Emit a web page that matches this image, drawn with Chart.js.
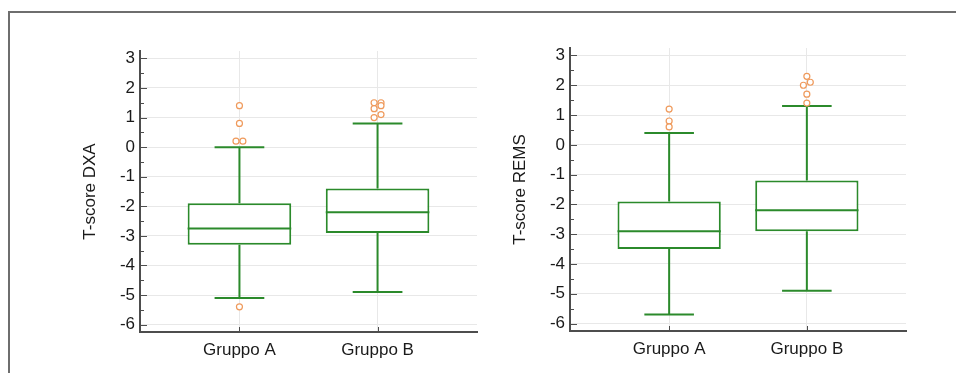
<!DOCTYPE html>
<html>
<head>
<meta charset="utf-8">
<title>T-score DXA / REMS</title>
<script src="https://cdn.jsdelivr.net/npm/chart.js@4.4.0/dist/chart.umd.min.js"></script>
<style>
    html, body {
        margin: 0;
        padding: 0;
        background: #ffffff;
        overflow: hidden;
    }
    .page {
        position: relative;
        width: 956px;
        height: 373px;
        overflow: hidden;
    }
    .frame {
        position: absolute;
        left: 8px;
        top: 11px;
        width: 1000px;
        height: 400px;
        border-top: 2px solid #6e6e6e;
        border-left: 2px solid #6e6e6e;
    }
    canvas {
        position: absolute;
        top: 0;
    }
    #dxaChart { left: 0; }
    #remsChart { left: 480px; }
</style>
</head>
<body>
<div class="page">
    <div class="frame"></div>
    <canvas id="dxaChart" width="490" height="373"></canvas>
    <canvas id="remsChart" width="476" height="373"></canvas>
</div>

<script>
// Groups and y-axis ticks
const groups = ['Gruppo A', 'Gruppo B'];
const groupPositions = [1, 2];
const yTicks = [-6, -5, -4, -3, -2, -1, 0, 1, 2, 3];

// T-score DXA summary (per group)
const dxaWhiskerLow = [-5.1, -4.9];
const dxaQ1 = [-3.3, -2.9];
const dxaMedian = [-2.75, -2.2];
const dxaQ3 = [-1.9, -1.4];
const dxaWhiskerHigh = [0.0, 0.8];
const dxaOutliers = [
    { x: 1, y: 1.4 }, { x: 1, y: 0.8 }, { x: 0.975, y: 0.2 }, { x: 1.025, y: 0.2 }, { x: 1, y: -5.4 },
    { x: 1.975, y: 1.5 }, { x: 2.025, y: 1.5 }, { x: 1.975, y: 1.3 }, { x: 2.025, y: 1.4 },
    { x: 2.025, y: 1.1 }, { x: 1.975, y: 1.0 }
];

// T-score REMS summary (per group)
const remsWhiskerLow = [-5.7, -4.9];
const remsQ1 = [-3.5, -2.9];
const remsMedian = [-2.9, -2.2];
const remsQ3 = [-1.9, -1.2];
const remsWhiskerHigh = [0.4, 1.3];
const remsOutliers = [
    { x: 1, y: 1.2 }, { x: 1, y: 0.8 }, { x: 1, y: 0.6 },
    { x: 2, y: 2.3 }, { x: 2.025, y: 2.1 }, { x: 1.975, y: 2.0 }, { x: 2, y: 1.7 }, { x: 2, y: 1.4 }
];

const BOX_COLOR = '#2b8a2b';
const OUTLIER_COLOR = '#ef9a5c';
const AXIS_COLOR = '#4d4d4d';
const GRID_COLOR = '#e8e8e8';
const CAP_HALF = 0.18;

Chart.defaults.font.family = '"Liberation Sans", Arial, sans-serif';
Chart.defaults.font.size = 17;
Chart.defaults.color = '#1a1a1a';

// Whiskers, caps and median lines, drawn through the chart scales
const boxPlotPlugin = {
    id: 'boxPlot',
    beforeDatasetsDraw(chart, args, opts) {
        const { ctx, scales: { x, y } } = chart;
        ctx.save();
        ctx.strokeStyle = BOX_COLOR;
        ctx.lineWidth = 2;
        opts.positions.forEach((pos, i) => {
            const cx = x.getPixelForValue(pos);
            const left = x.getPixelForValue(pos - CAP_HALF);
            const right = x.getPixelForValue(pos + CAP_HALF);
            const lo = y.getPixelForValue(opts.low[i]);
            const hi = y.getPixelForValue(opts.high[i]);
            ctx.beginPath();
            ctx.moveTo(cx, y.getPixelForValue(opts.q3[i]));
            ctx.lineTo(cx, hi);
            ctx.moveTo(left, hi);
            ctx.lineTo(right, hi);
            ctx.moveTo(cx, y.getPixelForValue(opts.q1[i]));
            ctx.lineTo(cx, lo);
            ctx.moveTo(left, lo);
            ctx.lineTo(right, lo);
            ctx.stroke();
        });
        ctx.restore();
    },
    afterDatasetDraw(chart, args, opts) {
        if (args.index !== 1) return;
        const { ctx } = chart;
        const { y } = chart.scales;
        const bars = chart.getDatasetMeta(1).data;
        ctx.save();
        ctx.strokeStyle = BOX_COLOR;
        ctx.lineWidth = 2;
        bars.forEach((bar, i) => {
            const my = y.getPixelForValue(opts.median[i]);
            ctx.beginPath();
            ctx.moveTo(bar.x - bar.width / 2, my);
            ctx.lineTo(bar.x + bar.width / 2, my);
            ctx.stroke();
        });
        ctx.restore();
    }
};

// Inward tick marks on both axes (minor ticks at half units)
const tickMarksPlugin = {
    id: 'tickMarks',
    afterDraw(chart) {
        const { ctx, chartArea, scales: { x, y } } = chart;
        ctx.save();
        ctx.strokeStyle = AXIS_COLOR;
        ctx.lineWidth = 1;
        ctx.beginPath();
        for (let v = yTicks[0]; v <= yTicks[yTicks.length - 1]; v += 0.5) {
            const py = Math.round(y.getPixelForValue(v)) + 0.5;
            const len = Number.isInteger(v) ? 7 : 4;
            ctx.moveTo(chartArea.left, py);
            ctx.lineTo(chartArea.left + len, py);
        }
        groupPositions.forEach(pos => {
            const px = Math.round(x.getPixelForValue(pos)) + 0.5;
            ctx.moveTo(px, chartArea.bottom);
            ctx.lineTo(px, chartArea.bottom - 5);
        });
        ctx.stroke();
        ctx.restore();
    }
};

function createBoxChart(canvasId, title, summary, outliers, layout) {
    const ctx = document.getElementById(canvasId).getContext('2d');
    return new Chart(ctx, {
        type: 'bar',
        data: {
            datasets: [
                {
                    type: 'scatter',
                    data: outliers,
                    pointStyle: 'circle',
                    pointRadius: 3,
                    pointHoverRadius: 3,
                    pointBorderWidth: 1.2,
                    pointBorderColor: OUTLIER_COLOR,
                    pointBackgroundColor: '#ffffff',
                    order: 0
                },
                {
                    type: 'bar',
                    data: groupPositions.map((pos, i) => ({ x: pos, y: [summary.q1[i], summary.q3[i]] })),
                    backgroundColor: '#ffffff',
                    borderColor: BOX_COLOR,
                    borderWidth: 2,
                    borderSkipped: false,
                    barPercentage: 0.75,
                    categoryPercentage: 1,
                    grouped: false,
                    order: 1
                }
            ]
        },
        options: {
            responsive: false,
            animation: false,
            devicePixelRatio: 1,
            layout: {
                padding: layout.padding
            },
            plugins: {
                legend: { display: false },
                tooltip: { enabled: false },
                boxPlot: {
                    positions: groupPositions,
                    low: summary.low,
                    q1: summary.q1,
                    median: summary.median,
                    q3: summary.q3,
                    high: summary.high
                }
            },
            scales: {
                x: {
                    type: 'linear',
                    min: 0.28,
                    max: 2.72,
                    offset: false,
                    afterBuildTicks: scale => {
                        scale.ticks = groupPositions.map(v => ({ value: v }));
                    },
                    afterFit: scale => {
                        scale.height = layout.xHeight;
                    },
                    ticks: {
                        padding: 8,
                        maxRotation: 0,
                        autoSkip: false,
                        callback: value => groups[groupPositions.indexOf(value)]
                    },
                    grid: {
                        color: GRID_COLOR,
                        offset: false,
                        drawTicks: false
                    },
                    border: {
                        display: true,
                        color: AXIS_COLOR,
                        width: 2
                    }
                },
                y: {
                    type: 'linear',
                    min: -6.25,
                    max: 3.25,
                    afterBuildTicks: scale => {
                        scale.ticks = yTicks.map(v => ({ value: v }));
                    },
                    afterFit: scale => {
                        scale.width = layout.yWidth;
                    },
                    ticks: {
                        padding: 5,
                        callback: value => String(value)
                    },
                    grid: {
                        color: GRID_COLOR,
                        drawTicks: false
                    },
                    border: {
                        display: true,
                        color: AXIS_COLOR,
                        width: 2
                    },
                    title: {
                        display: true,
                        text: title,
                        padding: 0,
                        font: { size: 17 }
                    }
                }
            }
        },
        plugins: [boxPlotPlugin, tickMarksPlugin]
    });
}

document.addEventListener('DOMContentLoaded', function() {
    createBoxChart('dxaChart', 'T-score DXA', {
        low: dxaWhiskerLow, q1: dxaQ1, median: dxaMedian, q3: dxaQ3, high: dxaWhiskerHigh
    }, dxaOutliers, {
        padding: { left: 80, right: 13, top: 51, bottom: 0 },
        yWidth: 60,
        xHeight: 41
    });

    createBoxChart('remsChart', 'T-score REMS', {
        low: remsWhiskerLow, q1: remsQ1, median: remsMedian, q3: remsQ3, high: remsWhiskerHigh
    }, remsOutliers, {
        padding: { left: 30, right: 50, top: 48, bottom: 0 },
        yWidth: 60,
        xHeight: 42
    });
});
</script>
</body>
</html>
